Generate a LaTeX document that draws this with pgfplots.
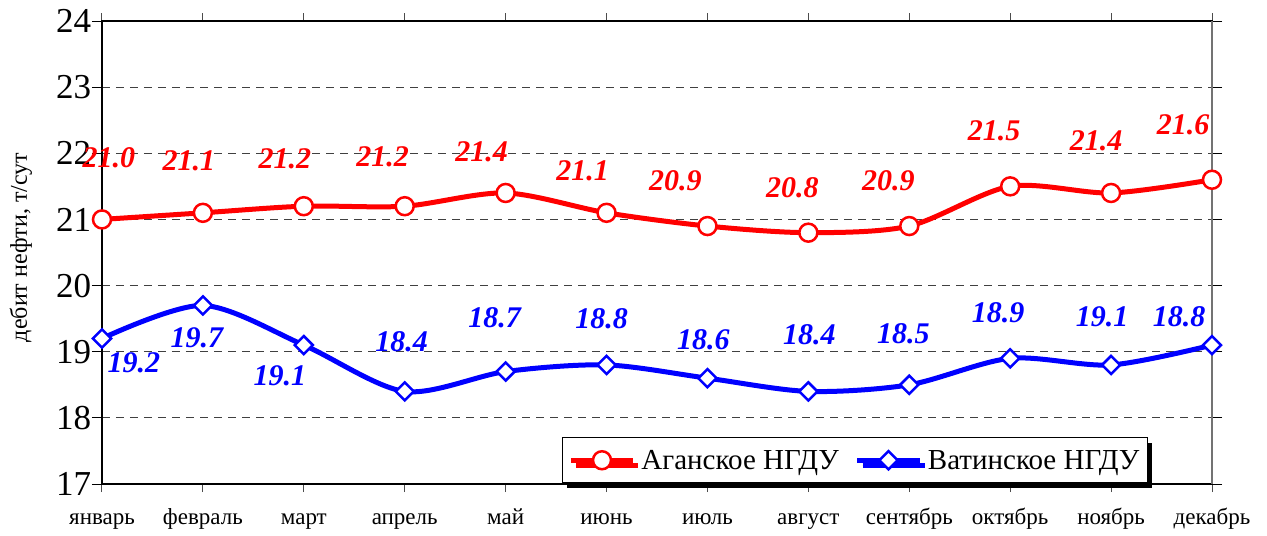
\documentclass[border=0pt]{standalone}
\usepackage{fontspec}
\setmainfont{Liberation Serif}
\usepackage{pgfplots}
\usepackage{pgfplotstable}
\pgfplotsset{compat=1.18}
\usetikzlibrary{shadows}

\pgfplotstableread{
x y lab dx dy
0 21.0 21.0 7 62
1 21.1 21.1 -14 52
2 21.2 21.2 -19 47
3 21.2 21.2 -22 49
4 21.4 21.4 -24 41
5 21.1 21.1 -24 42
6 20.9 20.9 -32 45
7 20.8 20.8 -16 45
8 20.9 20.9 -21 45
9 21.5 21.5 -16 56
10 21.4 21.4 -15 52
11 21.6 21.6 -29 55
}\redtab

\pgfplotstableread{
x y lab dx dy
0 19.2 19.2 32 -24
1 19.7 19.7 -6 -32
2 19.1 19.1 -24 -31
3 18.4 18.4 -3 50
4 18.7 18.7 -11 54
5 18.8 18.8 -5 46
6 18.6 18.6 -4 38
7 18.4 18.4 1 57
8 18.5 18.5 -6 51
9 18.9 18.9 -12 46
10 18.8 19.1 -9 48
11 19.1 18.8 -33 28
}\bluetab

\begin{document}
\begin{tikzpicture}
\path[use as bounding box] (-102bp,-52bp) rectangle (1165bp,484bp);
\begin{axis}[
  scale only axis,
  width=1110bp, height=463bp,
  xmin=0, xmax=11, ymin=17, ymax=24,
  xtick={0,...,11},
  xticklabels={январь,февраль,март,апрель,май,июнь,июль,август,сентябрь,октябрь,ноябрь,декабрь},
  ytick={17,18,19,20,21,22,23,24},
  yticklabel={\hbox{\rmfamily\fontsize{35bp}{40bp}\selectfont\pgfmathprintnumber[assume math mode=true,int detect]{\tick}}},
  tick align=outside,
  xtick style={black!70, line width=1bp},
  ytick style={black, line width=1bp},
  x tick style={/pgfplots/major tick length=8bp},
  y tick style={/pgfplots/major tick length=10bp},
  axis line style={black, line width=1.3bp},
  x tick label style={font=\rmfamily\fontsize{23bp}{27bp}\selectfont, anchor=base, yshift=-36bp},
  y tick label style={xshift=-3bp},
  ymajorgrids,
  grid style={black!75, line width=1bp, dash pattern=on 8bp off 6bp},
  ylabel={дебит нефти, т/сут},
  every axis y label/.style={at={([xshift=-81bp,yshift=5bp]rel axis cs:0,0.5)}, rotate=90, anchor=center, font=\rmfamily\fontsize{24bp}{29bp}\selectfont},
  clip=false,
  legend columns=2,
  legend style={at={(rel axis cs:0.9423,0.002)}, anchor=south east,
    draw=black, line width=1bp, fill=white,
    drop shadow={shadow xshift=5bp, shadow yshift=-5bp, opacity=1, fill=black},
    font=\rmfamily\fontsize{29bp}{34bp}\selectfont,
    inner xsep=6bp, inner ysep=10bp,
    /tikz/every odd column/.append style={column sep=4bp},
    /tikz/every even column/.append style={column sep=14bp}},
  legend image code/.code={\draw[mark repeat=2, mark phase=2, #1] plot coordinates {(0bp,0bp) (31bp,0bp) (62bp,0bp)};},
]
\draw[black!55, line width=1.5bp] (rel axis cs:1,0) -- (rel axis cs:1,1);
\addplot[red, line width=5bp, smooth, tension=0.5, mark=*,
  mark size=9bp, mark options={fill=white, draw=red, line width=2.5bp},
  point meta=explicit symbolic,
  nodes near coords,
  visualization depends on={\thisrow{dx} \as \dx},
  visualization depends on={\thisrow{dy} \as \dy},
  nodes near coords style={anchor=center, inner sep=0pt, xshift=\dx bp, yshift=\dy bp, text=red,
    font=\rmfamily\fontsize{30bp}{36bp}\selectfont\bfseries\itshape}]
  table[x=x, y=y, meta=lab] {\redtab};
\addlegendentry{Аганское НГДУ}
\addplot[blue, line width=5bp, smooth, tension=0.5, mark=square*,
  mark size=6.4bp, mark options={fill=white, draw=blue, line width=2.5bp, rotate=45},
  point meta=explicit symbolic,
  nodes near coords,
  visualization depends on={\thisrow{dx} \as \dx},
  visualization depends on={\thisrow{dy} \as \dy},
  nodes near coords style={anchor=center, inner sep=0pt, xshift=\dx bp, yshift=\dy bp, text=blue,
    font=\rmfamily\fontsize{30bp}{36bp}\selectfont\bfseries\itshape}]
  table[x=x, y=y, meta=lab] {\bluetab};
\addlegendentry{Ватинское НГДУ}
\end{axis}
\end{tikzpicture}
\end{document}
